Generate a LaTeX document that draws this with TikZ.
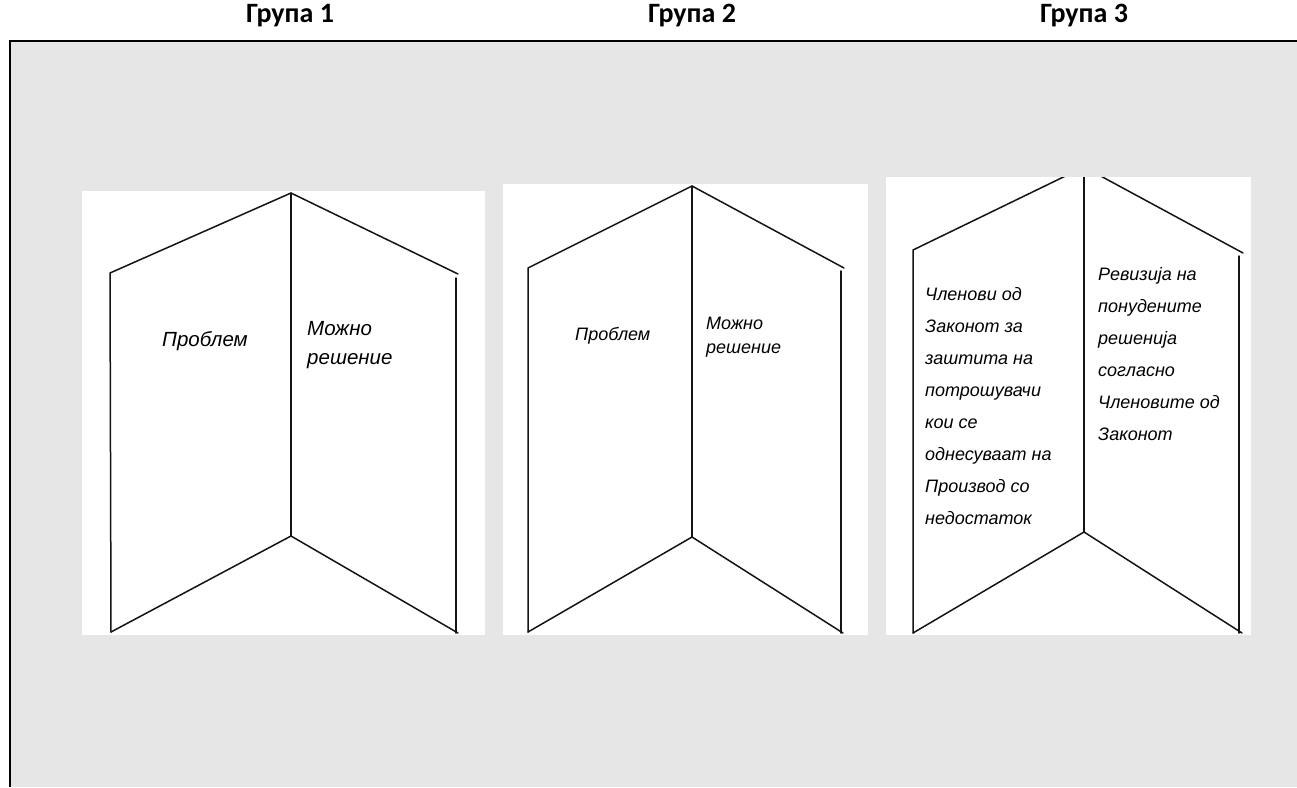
\documentclass[tikz,border=0pt]{standalone}
\usepackage{fontspec}
\setmainfont{Carlito}
\newfontfamily\cadfont{Liberation Sans}
\definecolor{bggray}{RGB}{230,230,230}
\definecolor{ink}{RGB}{20,20,20}
\begin{document}
\begin{tikzpicture}[x=1pt,y=-1pt,
  fold/.style={line width=1.5pt, draw=ink, line cap=round, line join=round},
  hdr/.style={font=\bfseries\fontsize{28}{32}\selectfont, anchor=base, inner sep=0},
  lblA/.style={font=\cadfont\itshape\fontsize{20.5}{29}\selectfont, align=left, anchor=north west, inner sep=0},
  lblB/.style={font=\cadfont\itshape\fontsize{18}{24}\selectfont, align=left, anchor=north west, inner sep=0},
  lblC/.style={font=\cadfont\itshape\fontsize{18}{32}\selectfont, align=left, anchor=north west, inner sep=0},
  sheet/.style={fill=white}]
\useasboundingbox (0,0) rectangle (1297,787);
\fill[white] (0,0) rectangle (1297,787);
\fill[bggray] (10,41) rectangle (1297,787);
\draw[line width=2.5pt] (10,787) -- (10,41) -- (1297,41);

% headers
\node[hdr] (h1) at (290,22) {Група 1};
\node[hdr] (h2) at (692,22) {Група 2};
\node[hdr] (h3) at (1084,22) {Група 3};

% ---------- panel 1 ----------
\fill[sheet] (82,191) rectangle (485,635);
\coordinate (a1) at (110,273);
\coordinate (b1) at (291,193);
\coordinate (c1) at (458,274);
\coordinate (d1) at (291,536);
\coordinate (e1) at (111,632);
\coordinate (f1) at (458,633);
\draw[fold] (e1) -- (a1) -- (b1) -- (c1);
\draw[fold] (456,278) -- (456,633);
\draw[fold] (b1) -- (d1);
\draw[fold] (e1) -- (d1) -- (f1);
\node[lblA] (p1) at (162,331) {Проблем};
\node[lblA] (s1) at (307,321) {Можно\\решение};

% ---------- panel 2 ----------
\fill[sheet] (503,184) rectangle (868,635);
\coordinate (a2) at (528,268);
\coordinate (b2) at (692,186);
\coordinate (c2) at (844,268);
\coordinate (d2) at (692,537);
\coordinate (e2) at (528,632);
\coordinate (f2) at (843,633);
\draw[fold] (e2) -- (a2) -- (b2) -- (c2);
\draw[fold] (841,271) -- (841,633);
\draw[fold] (b2) -- (d2);
\draw[fold] (e2) -- (d2) -- (f2);
\node[lblB] (p2) at (575,327) {Проблем};
\node[lblB] (s2) at (706,317) {Можно\\решение};

% ---------- panel 3 ----------
\fill[sheet] (886,177) rectangle (1251,635);
\begin{scope}
\clip (886,177) rectangle (1251,635);
\coordinate (a3) at (913,250);
\coordinate (b3) at (1084,167);
\coordinate (c3) at (1243,253);
\coordinate (d3) at (1084,532);
\coordinate (e3) at (913,633);
\coordinate (f3) at (1242,633);
\draw[fold] (e3) -- (a3) -- (b3) -- (c3);
\draw[fold] (1239,256) -- (1239,633);
\draw[fold] (1084,177) -- (d3);
\draw[fold] (e3) -- (d3) -- (f3);
\end{scope}
\node[lblC] (l3) at (925,287) {Членови од\\Законот за\\заштита на\\потрошувачи\\кои се\\однесуваат на\\Производ со\\недостаток};
\node[lblC] (r3) at (1098,267) {Ревизија на\\понудените\\решенија\\согласно\\Членовите од\\Законот};
\end{tikzpicture}
\end{document}
